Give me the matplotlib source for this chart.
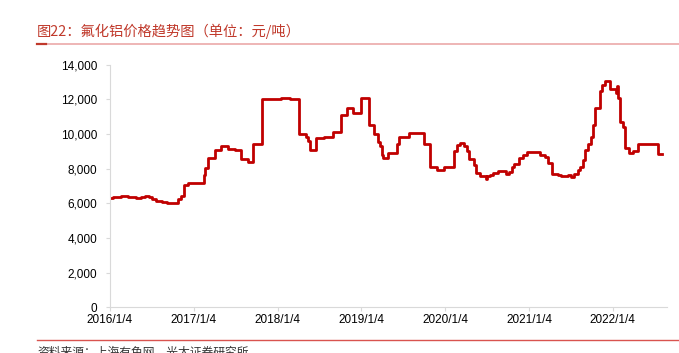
import matplotlib

matplotlib.use("Agg")
import matplotlib.dates as mdates
import matplotlib.pyplot as plt
import pandas as pd
from matplotlib.lines import Line2D
from matplotlib.ticker import FuncFormatter

plt.rcParams["font.family"] = ["Liberation Sans", "Noto Sans CJK SC", "DejaVu Sans"]

TITLE = "图22：氟化铝价格趋势图（单位：元/吨）"
SOURCE = "资料来源：上海有色网，光大证券研究所"

# change points of the weekly price (yuan/ton), drawn as steps
dates = [
    "2016-01-04", "2016-01-15", "2016-02-19", "2016-03-21", "2016-04-25", "2016-05-16",
    "2016-06-03", "2016-06-20", "2016-07-03", "2016-07-21", "2016-08-16", "2016-09-07",
    "2016-10-25", "2016-11-07", "2016-11-20", "2016-12-07", "2017-02-15", "2017-02-22",
    "2017-03-07", "2017-04-05", "2017-05-01", "2017-06-01", "2017-07-01", "2017-07-28",
    "2017-08-27", "2017-09-20", "2017-10-27", "2018-01-18", "2018-02-28", "2018-04-05",
    "2018-05-09", "2018-05-15", "2018-05-24", "2018-06-19", "2018-07-24", "2018-08-31",
    "2018-10-05", "2018-11-02", "2018-11-29", "2019-01-02", "2019-02-06", "2019-02-27",
    "2019-03-16", "2019-03-27", "2019-04-05", "2019-04-09", "2019-04-30", "2019-06-10",
    "2019-06-16", "2019-07-29", "2019-10-05", "2019-10-29", "2019-12-01", "2019-12-30",
    "2020-02-11", "2020-02-23", "2020-03-07", "2020-03-25", "2020-04-07", "2020-04-16",
    "2020-05-07", "2020-05-19", "2020-06-02", "2020-06-29", "2020-07-03", "2020-07-16",
    "2020-07-31", "2020-08-21", "2020-09-27", "2020-10-08", "2020-10-20", "2020-10-29",
    "2020-11-21", "2020-12-08", "2020-12-24", "2021-02-20", "2021-03-14", "2021-03-28",
    "2021-04-12", "2021-05-09", "2021-05-25", "2021-06-23", "2021-07-04", "2021-07-18",
    "2021-08-05", "2021-08-13", "2021-08-25", "2021-09-04", "2021-09-19", "2021-09-29",
    "2021-10-08", "2021-10-18", "2021-11-09", "2021-11-19", "2021-11-30", "2021-12-22",
    "2022-01-17", "2022-01-23", "2022-01-26", "2022-02-03", "2022-02-18", "2022-02-25",
    "2022-03-16", "2022-04-02", "2022-04-22", "2022-07-21", "2022-08-04",
]
prices = [
    6300, 6350, 6400, 6350, 6300, 6380,
    6450, 6380, 6250, 6150, 6080, 6020,
    6250, 6400, 7050, 7200, 7650, 8050,
    8600, 9100, 9300, 9150, 9050, 8550,
    8400, 9400, 12000, 12100, 12000, 10000,
    9850, 9600, 9100, 9750, 9800, 10100,
    11100, 11500, 11200, 12100, 10500, 10000,
    9550, 9300, 8800, 8600, 8900, 9400,
    9850, 10050, 9450, 8100, 7950, 8100,
    9000, 9350, 9500, 9300, 9000, 8550,
    8200, 7750, 7550, 7400, 7550, 7650,
    7750, 7850, 7700, 7800, 8100, 8250,
    8600, 8800, 8950, 8800, 8700, 8350,
    7700, 7650, 7550, 7650, 7500, 7700,
    7900, 8100, 8500, 9100, 9450, 9850,
    10500, 11500, 12500, 12800, 13050, 12600,
    12350, 12750, 12050, 10700, 10400, 9200,
    8900, 9000, 9400, 8850, 8850,
]
tick_dates = ["2016-01-04", "2017-01-04", "2018-01-04", "2019-01-04",
              "2020-01-04", "2021-01-04", "2022-01-04"]
tick_labels = ["2016/1/4", "2017/1/4", "2018/1/4", "2019/1/4",
               "2020/1/4", "2021/1/4", "2022/1/4"]
y_ticks = [0, 2000, 4000, 6000, 8000, 10000, 12000, 14000]

fig = plt.figure(figsize=(6.79, 3.53), dpi=100)
ax = fig.add_axes([0.162, 0.1295, 0.82, 0.6872])

ax.plot(pd.to_datetime(dates), prices, drawstyle="steps-post",
        color="#C00000", linewidth=2.0)

ax.set_ylim(0, 14000)
ax.set_yticks(y_ticks)
ax.yaxis.set_major_formatter(FuncFormatter(lambda v, _: f"{v:,.0f}"))
ax.set_xlim(pd.Timestamp("2016-01-04"), pd.Timestamp("2022-08-27"))
ax.set_xticks(mdates.date2num(pd.to_datetime(tick_dates)))
ax.set_xticklabels(tick_labels)

for side in ("top", "right"):
    ax.spines[side].set_visible(False)
for side in ("left", "bottom"):
    ax.spines[side].set_color("#D9D9D9")
    ax.spines[side].set_linewidth(0.8)
ax.tick_params(axis="both", colors="#D9D9D9", length=3, width=0.8,
               labelsize=8.5, labelcolor="#000000")
ax.tick_params(axis="y", pad=6)
ax.tick_params(axis="x", pad=2)

fig.text(37 / 679, 1 - 31 / 353, TITLE, color="#C0392B", fontsize=10.3,
         va="center", ha="left", family=["Noto Sans CJK SC", "DejaVu Sans"])
fig.add_artist(Line2D([37 / 679, 1], [1 - 44 / 353] * 2, color="#EBA9A9",
                      linewidth=1.2))
fig.add_artist(Line2D([37 / 679, 46 / 679], [1 - 44 / 353] * 2, color="#C0392B",
                      linewidth=1.6))
fig.add_artist(Line2D([37 / 679, 1], [1 - 340 / 353] * 2, color="#D9534F",
                      linewidth=1.0))
fig.text(37 / 679, 1 - 346 / 353, SOURCE, color="#333333", fontsize=8.5,
         va="top", ha="left", family=["Noto Sans CJK SC", "DejaVu Sans"])

fig.savefig("out.png", dpi=100)
